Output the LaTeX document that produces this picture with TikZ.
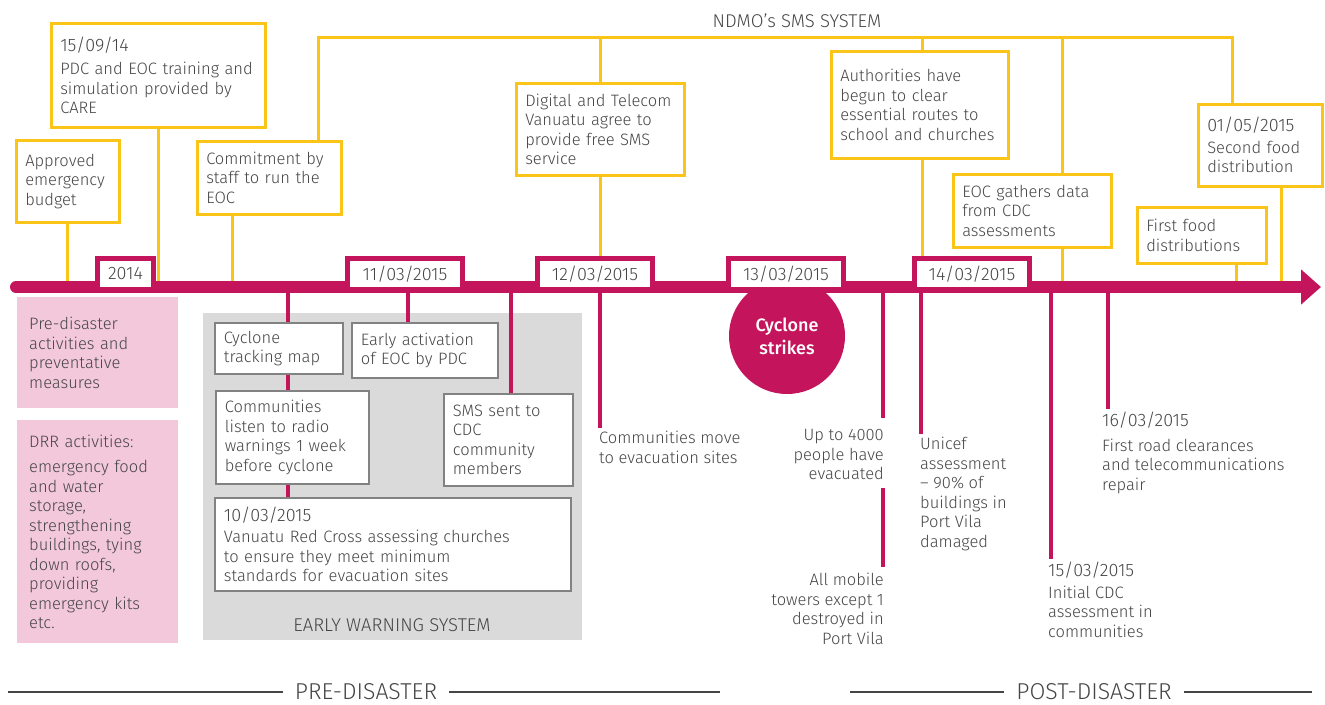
\documentclass[tikz,border=0pt]{standalone}
\usepackage{fontspec}
\setmainfont{Fira Sans Light}[BoldFont={Fira Sans Medium}]
\usetikzlibrary{calc,arrows.meta}

\definecolor{cyclonered}{RGB}{196,20,92}
\definecolor{smsyellow}{RGB}{250,196,24}
\definecolor{drrpink}{RGB}{243,200,218}
\definecolor{ewsgray}{RGB}{218,218,218}
\definecolor{boxgray}{RGB}{130,130,130}
\definecolor{inkgray}{RGB}{70,70,70}

\pgfdeclarelayer{back}
\pgfdeclarelayer{mid}
\pgfsetlayers{back,mid,main}

\newcommand\tlfont{\fontsize{16.5}{19.5}\selectfont}
\newcommand\datefont{\fontsize{18}{20}\selectfont}
\newcommand\capsfont{\fontsize{18.5}{21}\selectfont}

\tikzset{
  ybox/.style={draw=smsyellow, line width=2.5pt, fill=white, anchor=north west, align=left, inner xsep=9pt, font=\tlfont, text=inkgray},
  gbox/.style={draw=boxgray, line width=1.8pt, fill=white, anchor=north west, align=left, inner xsep=9pt, font=\tlfont, text=inkgray},
  pbox/.style={fill=drrpink, anchor=north west, align=left, inner xsep=12pt, font=\tlfont, text=inkgray},
  datebox/.style={draw=cyclonered, line width=5pt, fill=white, minimum height=31pt, minimum width=115pt, inner sep=0pt, font=\datefont, text=inkgray},
  note/.style={inner sep=3pt, align=left, anchor=north west, font=\tlfont, text=inkgray},
  rnote/.style={note, align=right, anchor=north east},
  phase/.style={font=\fontsize{23}{26}\selectfont, text=inkgray, inner xsep=12pt},
  yline/.style={draw=smsyellow, line width=3pt},
  mline/.style={draw=cyclonered, line width=4pt},
  divider/.style={draw=inkgray, line width=1.6pt},
}

\begin{document}
\begin{tikzpicture}[x=1pt, y=-1pt]
  \useasboundingbox (0,0) rectangle (1325,704);

  %%%%% BACKGROUND %%%%%
  \begin{pgfonlayer}{back}
    \fill[white] (0,0) rectangle (1325,704);
    \node[fill=ewsgray, anchor=north west, minimum width=379pt, minimum height=327pt, inner sep=0pt] (ews) at (203,313) {};
    \node[font=\capsfont, text=inkgray] (ewslabel) at (392,625) {EARLY WARNING SYSTEM};
  \end{pgfonlayer}

  %%%%% PRE-DISASTER SIDE %%%%%
  \node[pbox, text width=137pt, minimum height=111pt] (predis) at (17,297) {Pre-disaster\\activities and\\preventative\\measures};
  \node[pbox, text width=137pt, minimum height=223pt] (drr) at (17,420) {DRR activities:\\[6pt]emergency food\\and water\\storage,\\strengthening\\buildings, tying\\down roofs,\\providing\\emergency kits\\etc.};

  \node[gbox, text width=110pt, minimum height=51pt] (track) at (214,322) {Cyclone\\tracking map};
  \node[gbox, text width=128pt, minimum height=55pt] (early) at (351,322) {Early activation\\of EOC by PDC};
  \node[gbox, text width=135pt, minimum height=93pt] (listen) at (215,390) {Communities\\listen to radio\\warnings 1 week\\before cyclone};
  \node[gbox, text width=111pt, minimum height=92pt] (sms) at (443,393) {SMS sent to\\CDC\\community\\members};
  \node[gbox, text width=338pt, minimum height=93pt] (redcross) at (214,497) {{\datefont 10/03/2015}\\[2pt]Vanuatu Red Cross assessing churches\\to ensure they meet minimum\\standards for evacuation sites};

  %%%%% ABOVE THE TIMELINE %%%%%
  \node[ybox, text width=85pt, minimum height=82pt] (budget) at (15,139) {Approved\\emergency\\budget};
  \node[ybox, text width=196pt, minimum height=104pt] (care) at (50,22) {{\datefont 15/09/14}\\[4pt]PDC and EOC training and\\simulation provided by\\CARE};
  \node[ybox, text width=126pt, minimum height=73pt] (commit) at (196,140) {Commitment by\\staff to run the\\EOC};
  \node[ybox, text width=150pt, minimum height=92pt] (digital) at (515,82) {Digital and Telecom\\Vanuatu agree to\\provide free SMS\\service};
  \node[ybox, text width=159pt, minimum height=107pt] (authorities) at (830,50) {Authorities have\\begun to clear\\essential routes to\\school and churches};
  \node[ybox, text width=140pt, minimum height=73pt] (eocdata) at (952,173) {EOC gathers data\\from CDC\\assessments};
  \node[ybox, text width=111pt, minimum height=56pt] (firstfood) at (1136,206) {First food\\distributions};
  \node[ybox, text width=106pt, minimum height=82pt] (secondfood) at (1197,103) {{\datefont 01/05/2015}\\[2pt]Second food\\distribution};

  \node[font=\capsfont, text=inkgray] (smslabel) at (797,21) {NDMO's SMS SYSTEM};

  %%%%% DATES %%%%%
  \node[datebox, minimum width=56pt] (d2014) at (125.5,274) {2014};
  \node[datebox] (d1103) at (405,274) {11/03/2015};
  \node[datebox] (d1203) at (595,274) {12/03/2015};
  \node[datebox] (d1303) at (786,274) {13/03/2015};
  \node[datebox] (d1403) at (972,274) {14/03/2015};

  %%%%% BELOW THE TIMELINE %%%%%
  \node[note] (moved) at (596,428) {Communities move\\to evacuation sites};
  \node[rnote] (evac) at (887,426) {Up to 4000\\people have\\evacuated};
  \node[rnote] (towers) at (887,570) {All mobile\\towers except 1\\destroyed in\\Port Vila};
  \node[note] (unicef) at (917,434) {Unicef\\assessment\\-- 90\% of\\buildings in\\Port Vila\\damaged};
  \node[note] (cdc) at (1045,559) {{\datefont 15/03/2015}\\[2pt]Initial CDC\\assessment in\\communities};
  \node[note] (road) at (1099,409) {{\datefont 16/03/2015}\\[5pt]First road clearances\\and telecommunications\\repair};

  %%%%% PHASES %%%%%
  \node[phase] (pre) at (366,692) {PRE-DISASTER};
  \node[phase] (post) at (1094,692) {POST-DISASTER};
  \coordinate (preL) at (8,692);
  \coordinate (preR) at (720,692);
  \coordinate (postL) at (850,692);
  \coordinate (postR) at (1312,692);
  \draw[divider] (preL) -- (pre.west);
  \draw[divider] (pre.east) -- (preR);
  \draw[divider] (postL) -- (post.west);
  \draw[divider] (post.east) -- (postR);

  %%%%% CONNECTORS %%%%%
  \coordinate (axL) at (16,287);
  \coordinate (axR) at (1321,287);
  \coordinate (smsL) at (318,37);
  \coordinate (smsR) at (1232,37);
  \coordinate (b1) at (922,37);
  \coordinate (b2) at (1062,37);
  \coordinate (y2) at (158,287);
  \coordinate (y3) at (232,287);
  \coordinate (f1) at (1236,287);
  \coordinate (f2) at (1281,287);
  \coordinate (t1) at (288,287);
  \coordinate (t2) at (408,287);
  \coordinate (t3) at (511,287);
  \coordinate (t4) at (600,287);
  \coordinate (t5) at (883,287);
  \coordinate (t6) at (921,287);
  \coordinate (t7) at (1051,287);
  \coordinate (t8) at (1108,287);

  \begin{pgfonlayer}{mid}
    % yellow
    \draw[yline] (budget.south) -- (budget.south |- axL);
    \draw[yline] (y2 |- care.south) -- (y2);
    \draw[yline] (y3 |- commit.south) -- (y3);
    \draw[yline] (smsL |- commit.north) -- (smsL) -- (smsR) -- (smsR |- secondfood.north);
    \draw[yline] (digital.north) -- (digital.north |- smsL);
    \draw[yline] (digital.south) -- (digital.south |- d1203.north);
    \draw[yline] (b1) -- (b1 |- authorities.north);
    \draw[yline] (b1 |- authorities.south) -- (b1 |- d1403.north);
    \draw[yline] (b2) -- (b2 |- eocdata.north);
    \draw[yline] (b2 |- eocdata.south) -- (b2 |- axL);
    \draw[yline] (f1 |- firstfood.south) -- (f1);
    \draw[yline] (f2 |- secondfood.south) -- (f2);
    % magenta
    \draw[mline] (t1) -- (t1 |- redcross.north);
    \draw[mline] (t2) -- (t2 |- early.north);
    \draw[mline] (t3) -- (t3 |- sms.north);
    \draw[mline] (t4) -- (t4 |- moved.north);
    \draw[mline, shorten >=8pt] (t5) -- (t5 |- evac.north);
    \draw[mline, shorten <=5pt, shorten >=3pt] (t5 |- evac.south) -- (t5 |- towers.north);
    \draw[mline] (t6) -- (t6 |- unicef.north);
    \draw[mline] (t7) -- (t7 |- cdc.north);
    \draw[mline] (t8) -- (t8 |- road.north);
    % cyclone and axis
    \node[circle, fill=cyclonered, minimum size=116pt, inner sep=0pt, text=white, align=center, font=\bfseries\fontsize{18}{23}\selectfont] (strike) at (787,336) {Cyclone\\strikes};
    \draw[cyclonered, line width=12pt, line cap=round, -{Triangle[length=20pt, width=34pt]}] (axL) -- (axR);
  \end{pgfonlayer}
\end{tikzpicture}
\end{document}
